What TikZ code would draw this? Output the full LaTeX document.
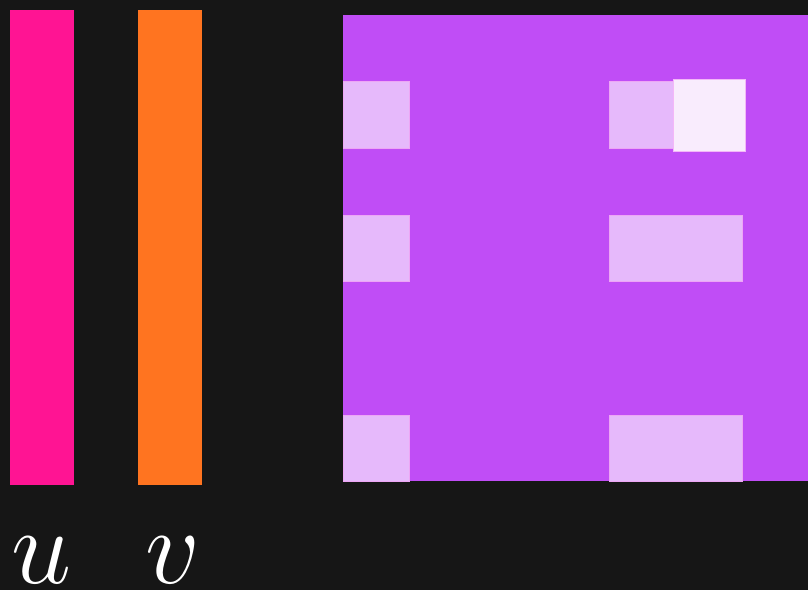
\documentclass[tikz,border=0pt]{standalone}
\definecolor{bg}{HTML}{161616}
\definecolor{pinkbar}{HTML}{FF1493}
\definecolor{orangebar}{HTML}{FF7420}
\definecolor{purplebox}{HTML}{C04DF6}
\definecolor{lightcell}{HTML}{E6B9FB}
\definecolor{lightedge}{HTML}{EDA6F5}
\definecolor{whitecell}{HTML}{F9ECFD}
\definecolor{whiteedge}{HTML}{F3B7F8}
\begin{document}
\begin{tikzpicture}[x=1pt,y=-1pt,
  box/.style={anchor=north west,inner sep=0pt,outer sep=0pt,draw=none},
  cell/.style={box,fill=lightcell,draw=lightedge,line width=0.6pt},
  hicell/.style={box,fill=whitecell,draw=whiteedge,line width=0.8pt},
  lbl/.style={text=white,inner sep=0pt,anchor=base,font=\fontsize{20}{24}\selectfont,scale=5.2}]
\fill[bg] (0,0) rectangle (808,590);
\useasboundingbox (0,0) rectangle (808,590);
\node[box,fill=pinkbar,minimum width=64pt,minimum height=475pt] (ubar) at (10,10) {};
\node[box,fill=orangebar,minimum width=64pt,minimum height=475pt] (vbar) at (138,10) {};
\node[box,fill=purplebox,minimum width=470pt,minimum height=466pt] (mat) at (343,15) {};
\node[cell,minimum width=66pt,minimum height=67pt] (c11) at (343,81) {};
\node[cell,minimum width=66pt,minimum height=66pt] (c21) at (343,215) {};
\node[cell,minimum width=66pt,minimum height=66pt] (c31) at (343,415) {};
\node[cell,minimum width=66pt,minimum height=67pt] (c12) at (609,81) {};
\node[cell,minimum width=133pt,minimum height=66pt] (c22) at (609,215) {};
\node[cell,minimum width=133pt,minimum height=66pt] (c32) at (609,415) {};
\node[hicell,minimum width=72pt,minimum height=72pt] (hi) at (673,79) {};
\node[lbl] (u) at (42,583) {$u$};
\node[lbl] (v) at (173,583) {$v$};
\end{tikzpicture}
\end{document}
